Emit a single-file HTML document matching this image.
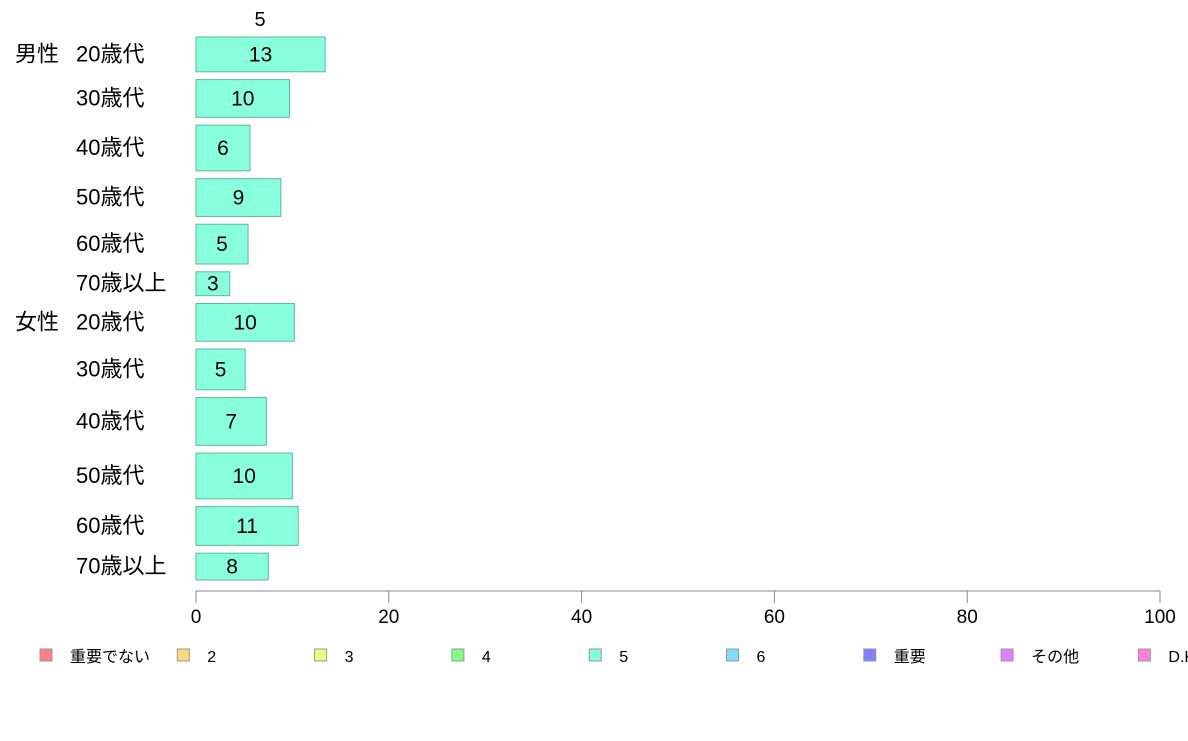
<!DOCTYPE html>
<html><head><meta charset="utf-8"><style>
body{margin:0;background:#fff;}
svg{font-family:"Liberation Sans","Noto Sans CJK JP",sans-serif;}
</style></head><body>
<svg id="chart" width="1188" height="736" xmlns="http://www.w3.org/2000/svg">
<text x="260" y="26" font-size="20" text-anchor="middle">5</text>
<g id="bars"></g>
<g id="axis"></g>
<g id="legend"></g>
</svg>
<script>
const groups = ["男性","","","","","","女性","","","","",""];
const categories = ["20歳代","30歳代","40歳代","50歳代","60歳代","70歳以上","20歳代","30歳代","40歳代","50歳代","60歳代","70歳以上"];
const values = [13.4,9.7,5.6,8.8,5.4,3.5,10.2,5.1,7.3,10.0,10.6,7.5];
const valueLabels = ["13","10","6","9","5","3","10","5","7","10","11","8"];
const rowWeights = [35,38,46,38,40,24,38,41,48,46,39,27];
const xTicks = [0,20,40,60,80,100];
const legendLabels = ["重要でない","2","3","4","5","6","重要","その他","D.K."];
const legendColors = ["#ff8080","#ffd980","#e6ff80","#80ff80","#80ffdb","#80dbff","#8080ff","#db80ff","#ff80db"];

const NS="http://www.w3.org/2000/svg";
const x0=196,x1=1160,xMax=100;
const xs=v=>x0+(x1-x0)*v/xMax;
const yTop=37,yBottom=580,gap=7.8;
const wSum=rowWeights.reduce((a,b)=>a+b,0);
const hScale=(yBottom-yTop-gap*(rowWeights.length-1))/wSum;
function mk(t,a,p){const e=document.createElementNS(NS,t);for(const k in a)e.setAttribute(k,a[k]);p.appendChild(e);return e;}
const bars=document.getElementById('bars');
let yy=yTop;
values.forEach((v,i)=>{
  const h=rowWeights[i]*hScale;
  const r=mk('rect',{x:x0,y:yy,width:xs(v)-x0,height:h,fill:'#88ffdd',stroke:'#5fb89c','stroke-width':1},bars);
  
  
  const cy=yy+h/2+7;
  const t=mk('text',{x:(x0+xs(v))/2,y:cy,'font-size':21,'text-anchor':'middle'},bars);
  t.textContent=valueLabels[i];
  
  
  const c=mk('text',{x:76,y:cy,'font-size':22},bars);
  c.textContent=categories[i];
  
  
  if(groups[i]){
    const g=mk('text',{x:15,y:cy,'font-size':22},bars);
    g.textContent=groups[i];
    
    
  }
  yy+=h+gap;
});
const ax=document.getElementById('axis');
const al=mk('line',{x1:x0,x2:x1,y1:591,y2:591,stroke:'#888','stroke-width':1},ax);


xTicks.forEach(t=>{
  const l=mk('line',{x1:xs(t),x2:xs(t),y1:591,y2:603,stroke:'#888'},ax);
  
  
  const tx=mk('text',{x:xs(t),y:623,'font-size':19,'text-anchor':'middle'},ax);
  tx.textContent=t;
  
  
});
const lg=document.getElementById('legend');
legendLabels.forEach((s,i)=>{
  const lx=40+i*137.3;
  const r=mk('rect',{x:lx,y:649,width:12,height:12,fill:legendColors[i],stroke:'#999'},lg);
  
  
  const t=mk('text',{x:lx+30,y:662,'font-size':16},lg);
  t.textContent=s;
  
  
});
</script>
</body></html>
